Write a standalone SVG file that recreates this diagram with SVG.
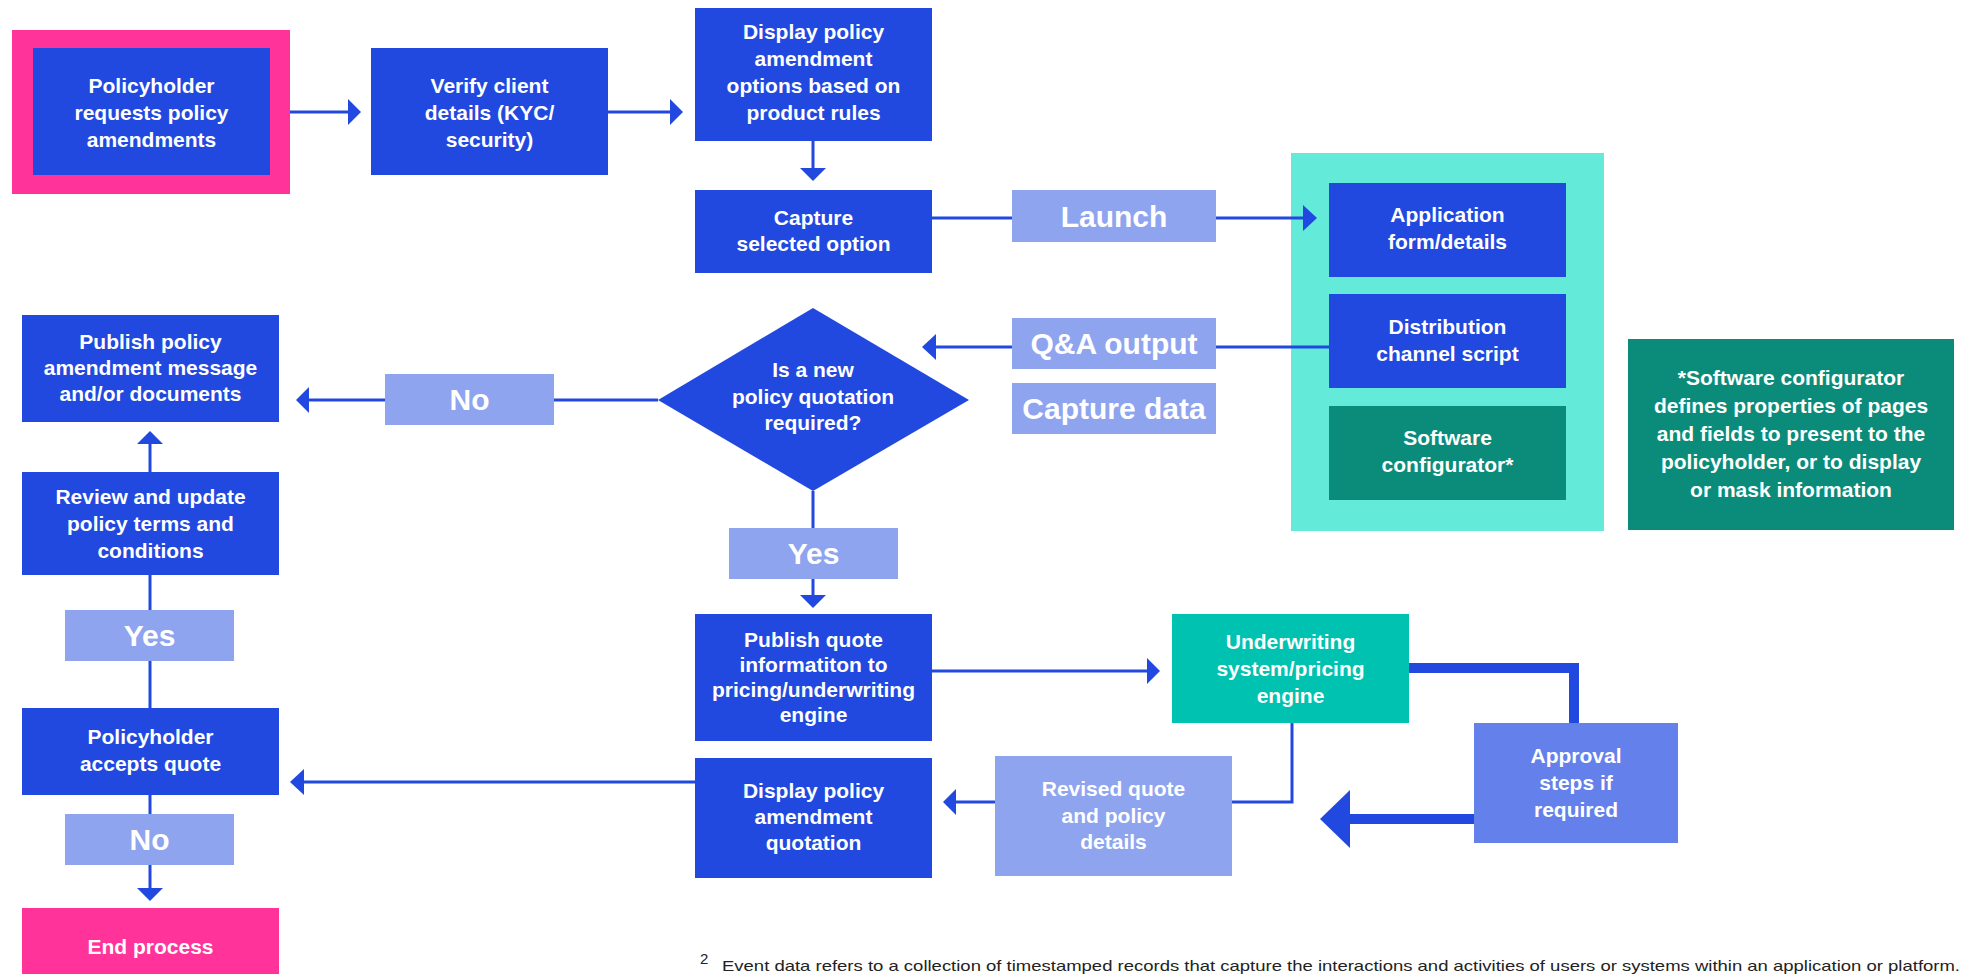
<svg xmlns="http://www.w3.org/2000/svg" width="1966" height="974" viewBox="0 0 1966 974">
<style>
.b{fill:#2149E0}
.l{fill:#8FA4EF}
.pk{fill:#FF3399}
.dt{fill:#0B8C7A}
.tl{fill:#00C2B0}
.ap{fill:#6480EA}
.ct{fill:#63EAD9}
.t{font-family:"Liberation Sans",Arial,sans-serif;font-weight:bold;font-size:21px;fill:#fff;text-anchor:middle}
.lt{font-family:"Liberation Sans",Arial,sans-serif;font-weight:bold;font-size:30px;fill:#fff;text-anchor:middle}
.c{stroke:#2149E0;stroke-width:3;fill:none}
.ct2{stroke:#2149E0;stroke-width:10;fill:none}
.h{fill:#2149E0}
.fn{font-family:"Liberation Sans",Arial,sans-serif;font-size:15px;fill:#222}
</style>
<rect width="1966" height="974" fill="#fff"/>
<g id="n-container">
<rect class="ct" x="1291" y="153" width="313" height="378"/>
</g>
<g id="connectors">
<path class="c" d="M270 112H350"/><polygon class="h" points="348,99 361,112 348,125"/>
<path class="c" d="M608 112H672"/><polygon class="h" points="670,99 683,112 670,125"/>
<path class="c" d="M813 141V170"/><polygon class="h" points="800,168 813,181 826,168"/>
<path class="c" d="M932 218H1012M1216 218H1305"/><polygon class="h" points="1303,205 1317,218 1303,231"/>
<path class="c" d="M1329 347H1216M1012 347H934"/><polygon class="h" points="936,334 922,347 936,360"/>
<path class="c" d="M658 400H554M385 400H307"/><polygon class="h" points="309,387 296,400 309,413"/>
<path class="c" d="M150 472V442"/><polygon class="h" points="137,444 150,431 163,444"/>
<path class="c" d="M150 708V661M150 610V575"/>
<path class="c" d="M150 795V814M150 865V890"/><polygon class="h" points="137,888 150,901 163,888"/>
<path class="c" d="M813 491V528M813 579V597"/><polygon class="h" points="800,595 813,608 826,595"/>
<path class="c" d="M932 671H1149"/><polygon class="h" points="1147,658 1160,671 1147,684"/>
<path class="c" d="M1292 723V802H1232"/>
<path class="c" d="M995 802H954"/><polygon class="h" points="956,789 943,802 956,815"/>
<path class="c" d="M695 782H302"/><polygon class="h" points="304,769 290,782 304,795"/>
<path class="ct2" d="M1409 668H1574V723"/>
<path class="ct2" d="M1474 819H1345"/><polygon class="h" points="1350,790 1320,819 1350,848"/>
</g>
<g id="n-request">
<rect class="pk" x="12" y="30" width="278" height="164"/>
<rect class="b" x="33" y="48" width="237" height="127"/>
<text class="t"><tspan x="151.5" y="93">Policyholder</tspan><tspan x="151.5" y="120">requests policy</tspan><tspan x="151.5" y="147">amendments</tspan></text>
</g>
<g id="n-verify">
<rect class="b" x="371" y="48" width="237" height="127"/>
<text class="t"><tspan x="489.5" y="93">Verify client</tspan><tspan x="489.5" y="120">details (KYC/</tspan><tspan x="489.5" y="147">security)</tspan></text>
</g>
<g id="n-display-options">
<rect class="b" x="695" y="8" width="237" height="133"/>
<text class="t"><tspan x="813.5" y="39">Display policy</tspan><tspan x="813.5" y="66">amendment</tspan><tspan x="813.5" y="93">options based on</tspan><tspan x="813.5" y="120">product rules</tspan></text>
</g>
<g id="n-capture">
<rect class="b" x="695" y="190" width="237" height="83"/>
<text class="t"><tspan x="813.5" y="225">Capture</tspan><tspan x="813.5" y="251">selected option</tspan></text>
</g>
<g id="l-launch">
<rect class="l" x="1012" y="190" width="204" height="52"/>
<text class="lt" x="1114" y="227">Launch</text>
</g>
<g id="n-application">
<rect class="b" x="1329" y="183" width="237" height="94"/>
<text class="t"><tspan x="1447.5" y="222">Application</tspan><tspan x="1447.5" y="249">form/details</tspan></text>
</g>
<g id="n-distribution">
<rect class="b" x="1329" y="294" width="237" height="94"/>
<text class="t"><tspan x="1447.5" y="334">Distribution</tspan><tspan x="1447.5" y="361">channel script</tspan></text>
</g>
<g id="n-software">
<rect class="dt" x="1329" y="406" width="237" height="94"/>
<text class="t"><tspan x="1447.5" y="445">Software</tspan><tspan x="1447.5" y="472">configurator*</tspan></text>
</g>
<g id="n-note">
<rect class="dt" x="1628" y="339" width="326" height="191"/>
<text class="t"><tspan x="1791" y="385">*Software configurator</tspan><tspan x="1791" y="413">defines properties of pages</tspan><tspan x="1791" y="441">and fields to present to the</tspan><tspan x="1791" y="469">policyholder, or to display</tspan><tspan x="1791" y="497">or mask information</tspan></text>
</g>
<g id="l-qa">
<rect class="l" x="1012" y="318" width="204" height="51"/>
<text class="lt" x="1114" y="354">Q&amp;A output</text>
</g>
<g id="l-capture-data">
<rect class="l" x="1012" y="383" width="204" height="51"/>
<text class="lt" x="1114" y="419">Capture data</text>
</g>
<g id="n-decision">
<polygon class="b" points="813,308 969,400 813,491 658,400"/>
<text class="t"><tspan x="813" y="377">Is a new</tspan><tspan x="813" y="404">policy quotation</tspan><tspan x="813" y="430">required?</tspan></text>
</g>
<g id="l-no-top">
<rect class="l" x="385" y="374" width="169" height="51"/>
<text class="lt" x="469.5" y="410">No</text>
</g>
<g id="n-publish-message">
<rect class="b" x="22" y="315" width="257" height="107"/>
<text class="t"><tspan x="150.5" y="349">Publish policy</tspan><tspan x="150.5" y="375">amendment message</tspan><tspan x="150.5" y="401">and/or documents</tspan></text>
</g>
<g id="n-review">
<rect class="b" x="22" y="472" width="257" height="103"/>
<text class="t"><tspan x="150.5" y="504">Review and update</tspan><tspan x="150.5" y="531">policy terms and</tspan><tspan x="150.5" y="558">conditions</tspan></text>
</g>
<g id="l-yes-left">
<rect class="l" x="65" y="610" width="169" height="51"/>
<text class="lt" x="149.5" y="646">Yes</text>
</g>
<g id="n-accepts">
<rect class="b" x="22" y="708" width="257" height="87"/>
<text class="t"><tspan x="150.5" y="744">Policyholder</tspan><tspan x="150.5" y="771">accepts quote</tspan></text>
</g>
<g id="l-no-left">
<rect class="l" x="65" y="814" width="169" height="51"/>
<text class="lt" x="149.5" y="850">No</text>
</g>
<g id="n-end">
<rect class="pk" x="22" y="908" width="257" height="70"/>
<text class="t" x="150.5" y="954">End process</text>
</g>
<g id="l-yes-center">
<rect class="l" x="729" y="528" width="169" height="51"/>
<text class="lt" x="813.5" y="564">Yes</text>
</g>
<g id="n-publish-quote">
<rect class="b" x="695" y="614" width="237" height="127"/>
<text class="t"><tspan x="813.5" y="647">Publish quote</tspan><tspan x="813.5" y="672">informatiton to</tspan><tspan x="813.5" y="697">pricing/underwriting</tspan><tspan x="813.5" y="722">engine</tspan></text>
</g>
<g id="n-underwriting">
<rect class="tl" x="1172" y="614" width="237" height="109"/>
<text class="t"><tspan x="1290.5" y="649">Underwriting</tspan><tspan x="1290.5" y="676">system/pricing</tspan><tspan x="1290.5" y="703">engine</tspan></text>
</g>
<g id="n-approval">
<rect class="ap" x="1474" y="723" width="204" height="120"/>
<text class="t"><tspan x="1576" y="763">Approval</tspan><tspan x="1576" y="790">steps if</tspan><tspan x="1576" y="817">required</tspan></text>
</g>
<g id="n-revised">
<rect class="l" x="995" y="756" width="237" height="120"/>
<text class="t"><tspan x="1113.5" y="796">Revised quote</tspan><tspan x="1113.5" y="823">and policy</tspan><tspan x="1113.5" y="849">details</tspan></text>
</g>
<g id="n-display-quotation">
<rect class="b" x="695" y="758" width="237" height="120"/>
<text class="t"><tspan x="813.5" y="798">Display policy</tspan><tspan x="813.5" y="824">amendment</tspan><tspan x="813.5" y="850">quotation</tspan></text>
</g>
<g id="footnote">
<text class="fn" x="700" y="964" font-size="11">2</text>
<text class="fn" x="722" y="971" textLength="1238" lengthAdjust="spacingAndGlyphs">Event data refers to a collection of timestamped records that capture the interactions and activities of users or systems within an application or platform.</text>
</g>
</svg>
